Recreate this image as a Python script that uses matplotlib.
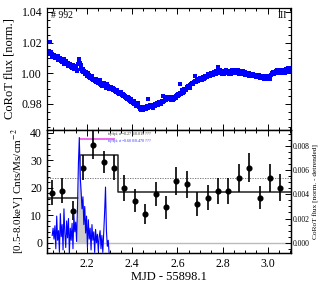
import numpy as np
import matplotlib
matplotlib.use('Agg')
import matplotlib.pyplot as plt
from matplotlib.ticker import MultipleLocator, FormatStrFormatter

plt.rcParams['font.family'] = ['Liberation Serif', 'DejaVu Serif']
plt.rcParams['mathtext.fontset'] = 'stix'

# ---------------- data ----------------
# top panel: CoRoT normalised flux (two interleaved cadence grids)
corot_t0 = 2.025
corot_dt = 0.006
corot_flux = [
    1.0135, 1.0148, 1.0205, 1.0128, 1.0112, 1.0118, 1.0104, 1.0097, 1.0110, 1.0088,
    1.0083, 1.0072, 1.0090, 1.0065, 1.0058, 1.0070, 1.0046, 1.0052, 1.0036, 1.0048,
    1.0028, 1.0040, 1.0022, 1.0095, 1.0070, 1.0030, 1.0008, 1.0015, 0.9996, 0.9990,
    1.0002, 0.9978, 0.9972, 0.9962, 0.9958, 0.9950, 0.9962, 0.9942, 0.9946, 0.9932,
    0.9938, 0.9924, 0.9930, 0.9915, 0.9928, 0.9908, 0.9902, 0.9912, 0.9893, 0.9899,
    0.9884, 0.9890, 0.9872, 0.9878, 0.9862, 0.9856, 0.9868, 0.9845, 0.9838, 0.9830,
    0.9842, 0.9818, 0.9812, 0.9806, 0.9820, 0.9798, 0.9792, 0.9804, 0.9770, 0.9762,
    0.9778, 0.9768, 0.9782, 0.9775, 0.9830, 0.9786, 0.9779, 0.9792, 0.9785, 0.9798,
    0.9792, 0.9806, 0.9800, 0.9815, 0.9808, 0.9855, 0.9822, 0.9838, 0.9830, 0.9842,
    0.9836, 0.9826, 0.9840, 0.9832, 0.9848, 0.9852, 0.9862, 0.9858, 0.9932, 0.9880,
    0.9872, 0.9895, 0.9888, 0.9908, 0.9916, 0.9905, 0.9928, 0.9935, 0.9946, 0.9980,
    0.9955, 0.9948, 0.9962, 0.9968, 0.9958, 0.9975, 0.9970, 0.9984, 0.9978, 0.9990,
    0.9985, 0.9998, 0.9992, 1.0004, 0.9998, 1.0010, 1.0040, 1.0006, 1.0015, 0.9998,
    1.0012, 1.0004, 1.0020, 1.0008, 0.9996, 1.0014, 1.0006, 1.0018, 1.0010, 1.0022,
    1.0004, 1.0016, 1.0008, 0.9994, 1.0012, 1.0002, 0.9990, 1.0004, 0.9996, 0.9985,
    0.9998, 0.9988, 0.9980, 0.9992, 0.9982, 0.9975, 0.9986, 0.9972, 0.9980, 0.9968,
    0.9982, 0.9972, 0.9960, 0.9978, 0.9965, 0.9990, 1.0002, 0.9994, 1.0010, 1.0004,
    1.0016, 1.0006, 1.0020, 1.0012, 1.0002, 1.0018, 1.0026, 1.0008, 1.0032, 1.0014,
]
corot_t0_b = 2.028
corot_flux_b = [
    1.0142, 1.0125, 1.0136, 1.0109, 1.0121, 1.0098, 1.0115, 1.0085, 1.0096, 1.0102,
    1.0074, 1.0088, 1.0060, 1.0079, 1.0068, 1.0050, 1.0062, 1.0040, 1.0055, 1.0030,
    1.0045, 1.0015, 1.0060, 1.0080, 1.0052, 1.0018, 1.0025, 0.9998, 1.0008, 0.9982,
    0.9988, 0.9968, 0.9980, 0.9955, 0.9966, 0.9944, 0.9952, 0.9936, 0.9955, 0.9926,
    0.9918, 0.9934, 0.9920, 0.9906, 0.9918, 0.9898, 0.9910, 0.9896, 0.9905, 0.9888,
    0.9878, 0.9894, 0.9866, 0.9870, 0.9880, 0.9850, 0.9858, 0.9852, 0.9830, 0.9845,
    0.9824, 0.9832, 0.9816, 0.9798, 0.9808, 0.9786, 0.9800, 0.9782, 0.9766, 0.9780,
    0.9760, 0.9776, 0.9768, 0.9784, 0.9772, 0.9790, 0.9782, 0.9776, 0.9796, 0.9786,
    0.9800, 0.9794, 0.9810, 0.9802, 0.9820, 0.9812, 0.9830, 0.9826, 0.9846, 0.9834,
    0.9844, 0.9834, 0.9828, 0.9845, 0.9838, 0.9860, 0.9850, 0.9872, 0.9866, 0.9888,
    0.9880, 0.9900, 0.9898, 0.9918, 0.9910, 0.9922, 0.9938, 0.9930, 0.9952, 0.9945,
    0.9962, 0.9956, 0.9972, 0.9962, 0.9978, 0.9966, 0.9982, 0.9976, 0.9994, 0.9980,
    1.0002, 0.9990, 1.0008, 0.9996, 1.0016, 1.0002, 1.0012, 1.0022, 1.0002, 1.0018,
    0.9998, 1.0014, 1.0002, 1.0016, 1.0008, 0.9998, 1.0020, 1.0002, 1.0016, 1.0006,
    1.0020, 0.9998, 1.0012, 1.0004, 0.9994, 1.0008, 0.9998, 0.9988, 1.0002, 0.9992,
    0.9982, 0.9996, 0.9986, 0.9976, 0.9990, 0.9978, 0.9970, 0.9984, 0.9974, 0.9962,
    0.9976, 0.9966, 0.9982, 0.9970, 0.9984, 0.9996, 1.0008, 1.0000, 1.0014, 1.0020,
    1.0000, 1.0014, 1.0008, 1.0024, 1.0010, 1.0004, 1.0020, 1.0036, 1.0012, 1.0024,
]
corot_t = corot_t0 + corot_dt * np.arange(len(corot_flux))
corot_t_b = corot_t0_b + corot_dt * np.arange(len(corot_flux_b))

# bottom panel: X-ray light curve
xray_t = [2.044, 2.090, 2.136, 2.182, 2.228, 2.274, 2.320, 2.366, 2.412, 2.458,
          2.504, 2.550, 2.596, 2.642, 2.688, 2.734, 2.780, 2.826, 2.872, 2.918,
          2.964, 3.010, 3.056]
xray_rate = [18.2, 18.9, 11.6, 27.3, 35.5, 29.5, 27.3, 20.0, 15.3, 10.4,
             17.7, 12.8, 22.4, 21.2, 14.1, 16.4, 18.9, 18.9, 23.6, 27.3,
             16.4, 23.6, 20.0]
xray_err = [4.5, 4.5, 3.5, 4.5, 5.0, 4.0, 4.5, 4.7, 4.2, 3.5,
            4.5, 4.2, 5.0, 5.0, 4.3, 4.4, 4.8, 4.7, 5.1, 5.3,
            4.2, 5.1, 4.9]

# Bayesian-block levels
block_edges = [2.023, 2.169, 2.337, 3.103]
block_levels = [16.1, 31.9, 18.5]
mean_level = 23.6
flare_bar = [2.169, 2.320, 37.7]

# detrended CoRoT flux (right axis, units of 1e-3)
det_t0 = 2.046
det_dt = 0.004
det_flux = [0.6, 1.2, 0.3, 1.4, -0.5, 2.2, 0.2, 1.0, -0.8, 2.4,
            0.5, 1.5, -0.6, 2.8, 0.8, -0.4, 1.8, 0.4, 2.0, -0.9,
            1.2, 0.2, 1.6, -0.5, 2.3, 0.9, 1.7, 0.1, 3.0, 6.5,
            8.7, 5.5, 4.2, 2.8, 3.8, 1.5, 3.0, 0.8, 2.2, -0.4,
            1.9, 0.3, 1.2, -0.6, 1.5, 0.2, 0.9, -0.8, 1.1, 0.0,
            0.7, -0.7, 0.5, 1.0, -0.5, 0.6, -0.8, 0.8, 2.5, 4.6,
            1.0, -0.3, 0.2, -0.9]
det_t = det_t0 + det_dt * np.arange(len(det_flux))
det_vals = np.array(det_flux) * 1e-3

xlim = (2.023, 3.103)

# ---------------- figure ----------------
fig = plt.figure(figsize=(3.27, 2.87), dpi=100)
L, W = 47 / 327, 244 / 327
ax1 = fig.add_axes([L, 1 - 130 / 287, W, 122 / 287])
ax2 = fig.add_axes([L, 1 - 252.7 / 287, W, 122.7 / 287])

TL = 8.5

# top panel
ax1.plot(corot_t, corot_flux, 's', color='#0000ff', ms=2.4, mew=0)
ax1.plot(corot_t_b, corot_flux_b, 's', color='#0000ff', ms=2.4, mew=0)
ax1.set_xlim(*xlim)
ax1.set_ylim(0.963, 1.0426)
ax1.yaxis.set_major_locator(MultipleLocator(0.02))
ax1.yaxis.set_minor_locator(MultipleLocator(0.005))
ax1.xaxis.set_major_locator(MultipleLocator(0.2))
ax1.xaxis.set_minor_locator(MultipleLocator(0.05))
ax1.yaxis.set_major_formatter(FormatStrFormatter('%.2f'))
ax1.tick_params(which='both', direction='in', top=True, right=True, labelsize=TL, width=0.7)
ax1.tick_params(which='major', length=4)
ax1.tick_params(which='minor', length=2)
ax1.tick_params(axis='x', labelbottom=False)
ax1.set_ylabel('CoRoT flux [norm.]', fontsize=9, labelpad=4)
ax1.text(0.015, 0.975, '# 992', transform=ax1.transAxes, ha='left', va='top', fontsize=7)
ax1.text(0.985, 0.975, 'III', transform=ax1.transAxes, ha='right', va='top', fontsize=7)

# bottom panel
ax2.set_xlim(*xlim)
ax2.set_ylim(-3.64, 40.98)
ax2.axhline(0, color='#bbbbbb', lw=1.0, zorder=1)
ax2.axhline(mean_level, color='#666666', lw=0.6, ls=(0, (1.5, 1.5)), zorder=1)
step_x = [block_edges[0]] + [e for e in block_edges[1:-1] for _ in (0, 1)] + [block_edges[-1]]
step_y = [v for v in block_levels for _ in (0, 1)]
ax2.plot(step_x, step_y, color='#222222', lw=1.1, zorder=3)
ax2.plot([flare_bar[0], flare_bar[1]], [flare_bar[2], flare_bar[2]], color='#ee66ee', lw=1.4, zorder=3)
ax2.errorbar(xray_t, xray_rate, yerr=xray_err, fmt='o', color='black', ms=3.4,
             elinewidth=1.2, capsize=0, zorder=4)
ax2.text(2.288, 39.5, r't$_{\rm up}$/t$_{\rm pk,str}$=0.278/0.019 ???', fontsize=3.1,
         color='#333333', va='center', ha='left', zorder=6)
ax2.text(2.288, 36.8, r't$_{\rm up}$/t$_{\rm pk,str}$=0.600/0.470 ???', fontsize=3.1,
         color='#3333ff', va='center', ha='left', zorder=6)
ax2.xaxis.set_major_locator(MultipleLocator(0.2))
ax2.xaxis.set_minor_locator(MultipleLocator(0.05))
ax2.yaxis.set_major_locator(MultipleLocator(10))
ax2.yaxis.set_minor_locator(MultipleLocator(2))
ax2.xaxis.set_major_formatter(FormatStrFormatter('%.1f'))
ax2.tick_params(which='both', direction='in', top=True, right=False, labelsize=TL, width=0.7)
ax2.tick_params(which='major', length=4)
ax2.tick_params(which='minor', length=2)
ax2.set_xlabel('MJD - 55898.1', fontsize=9, labelpad=1)
ax2.set_ylabel(r'[0.5-8.0keV] Cnts/Ms/cm$^{-2}$', fontsize=8, labelpad=2)

ax3 = ax2.twinx()
ax3.set_ylim(-0.000827, 0.00932)
ax3.fill_between(det_t, 0, det_vals, where=(det_t >= 2.158) & (det_t <= 2.200),
                 color='#cccccc', lw=0, interpolate=True)
ax3.plot(det_t, det_vals, color='#0000ff', lw=0.8)
ax3.yaxis.set_major_locator(MultipleLocator(0.002))
ax3.yaxis.set_minor_locator(MultipleLocator(0.0005))
ax3.yaxis.set_major_formatter(FormatStrFormatter('%.3f'))
ax3.tick_params(which='both', direction='in', labelsize=5.5, width=0.7, pad=1.5)
ax3.tick_params(which='major', length=4)
ax3.tick_params(which='minor', length=2)
ax3.set_ylabel('CoRoT flux [norm. - detrended]', fontsize=5.3, labelpad=2)

for ax in (ax1, ax2, ax3):
    for s in ax.spines.values():
        s.set_linewidth(0.9)

fig.savefig('out.png', dpi=100)
